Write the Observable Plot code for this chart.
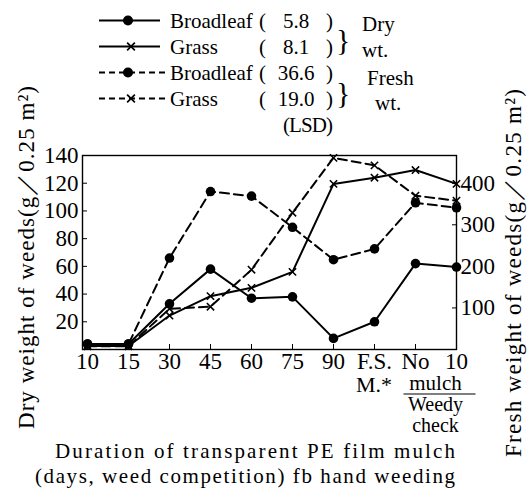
<!DOCTYPE html>
<html><head><meta charset="utf-8">
<script src="https://cdn.jsdelivr.net/npm/d3@7"></script>
<script src="https://cdn.jsdelivr.net/npm/@observablehq/plot@0.6"></script>
<style>
html,body{margin:0;padding:0;background:#fff;}
#wrap{position:relative;width:529px;height:491px;overflow:hidden;background:#fff;}
#wrap svg{position:absolute;left:0;top:0;}
</style></head><body><div id="wrap"></div>
<script>
// ---- data ----
const categories = ["10","15","30","45","60","75","90","FSM","NoMulch","WeedyCheck"];
const tickLabels = ["10","15","30","45","60","75","90","F.S.","No","10"];
const dryBroadleaf   = [4, 4, 33, 58, 37, 38, 8, 20, 62, 59.5];
const dryGrass       = [2.5, 2.5, 24.5, 38.5, 44.5, 56, 119.5, 124, 129.5, 119.5];
const freshBroadleaf = [13, 13, 220, 380, 369, 294, 216, 242, 353, 341];
const freshGrass     = [8, 8, 98, 103, 192, 329, 461, 443, 370, 358];
const dryTicks   = [20, 40, 60, 80, 100, 120, 140];
const freshTicks = [100, 200, 300, 400];
const lsd = ["5.8", "8.1", "36.6", "19.0"];
const FACTOR = 10 / 3; // fresh-weight units per dry-weight unit (right vs left axis)

const table = [];
categories.forEach((c, i) => {
  table.push({cat: c, v: dryBroadleaf[i], s: "dryB"});
  table.push({cat: c, v: dryGrass[i], s: "dryG"});
  table.push({cat: c, v: freshBroadleaf[i] / FACTOR, s: "freshB"});
  table.push({cat: c, v: freshGrass[i] / FACTOR, s: "freshG"});
});
const ser = s => table.filter(d => d.s === s);

const serif = "'Liberation Serif', 'Times New Roman', serif";
const ink = "#000";
const dash = "9,5";

const chart = Plot.plot({
  width: 529, height: 491,
  marginTop: 155, marginBottom: 142, marginLeft: 82, marginRight: 73,
  style: {fontFamily: serif, fontSize: "23px", background: "transparent", color: ink},
  x: {type: "point", domain: categories, padding: 0, insetLeft: 4},
  y: {domain: [0, 140]},
  marks: [
    Plot.frame({stroke: ink, strokeWidth: 1.4}),
    Plot.axisY({anchor: "left", ticks: dryTicks, tickSize: -5, tickPadding: 9, label: null}),
    Plot.axisY({anchor: "right", ticks: freshTicks.map(t => t / FACTOR), tickSize: -5, tickPadding: 9,
      tickFormat: d => String(Math.round(d * FACTOR)), label: null}),
    Plot.axisX({anchor: "bottom", ticks: categories, tickSize: -5, tickPadding: 8,
      tickFormat: d => tickLabels[categories.indexOf(d)], label: null}),
    Plot.line(ser("freshB"), {x: "cat", y: "v", stroke: ink, strokeWidth: 2, strokeDasharray: dash}),
    Plot.line(ser("freshG"), {x: "cat", y: "v", stroke: ink, strokeWidth: 2, strokeDasharray: dash}),
    Plot.line(ser("dryB"), {x: "cat", y: "v", stroke: ink, strokeWidth: 2}),
    Plot.line(ser("dryG"), {x: "cat", y: "v", stroke: ink, strokeWidth: 2}),
    Plot.dot(ser("dryB").concat(ser("freshB")), {x: "cat", y: "v", symbol: "circle", r: 4.8, fill: ink}),
    Plot.dot(ser("dryG").concat(ser("freshG")), {x: "cat", y: "v", symbol: "times", r: 3.4, stroke: ink, strokeWidth: 1.6})
  ]
});
document.getElementById("wrap").appendChild(chart);

// ---- overlay: legend, axis titles, extra category labels ----
const xs = chart.scale("x");
const ov = d3.create("svg").attr("width", 529).attr("height", 491)
  .style("font-family", serif).style("font-size", "21px").attr("fill", ink);

const legendRows = [
  {label: "Broadleaf", dashed: false, sym: "circle"},
  {label: "Grass", dashed: false, sym: "times"},
  {label: "Broadleaf", dashed: true, sym: "circle"},
  {label: "Grass", dashed: true, sym: "times"}
];
const rowY = [20.5, 46.5, 72.5, 98.5];
legendRows.forEach((r, i) => {
  const y = rowY[i];
  ov.append("line").attr("x1", 99).attr("x2", r.dashed ? 167 : 160).attr("y1", y).attr("y2", y)
    .attr("stroke", ink).attr("stroke-width", 2).attr("stroke-dasharray", r.dashed ? "6,4" : null);
  if (r.sym === "circle") {
    ov.append("circle").attr("cx", 128).attr("cy", y).attr("r", 5).attr("fill", ink);
  } else {
    ov.append("path").attr("d", d3.symbol(d3.symbolTimes, Math.PI * 3.6 * 3.6)())
      .attr("transform", `translate(131,${y})`).attr("fill", "none").attr("stroke", ink).attr("stroke-width", 1.7);
  }
  ov.append("text").attr("x", 170).attr("y", y + 7).text(r.label);
  ov.append("text").attr("x", 259).attr("y", y + 7).text("(");
  ov.append("text").attr("x", 296).attr("y", y + 7).attr("text-anchor", "middle").text(lsd[i]);
  ov.append("text").attr("x", 333).attr("y", y + 7).attr("text-anchor", "end").text(")");
});
ov.append("text").attr("x", 333).attr("y", 132).attr("text-anchor", "end")
  .attr("textLength", 50).attr("lengthAdjust", "spacing").text("(LSD)");
// braces
ov.append("text").attr("x", 336).attr("y", 50).style("font-size", "30px").text("}");
ov.append("text").attr("x", 336).attr("y", 103).style("font-size", "30px").text("}");
ov.append("text").attr("x", 362).attr("y", 31).text("Dry");
ov.append("text").attr("x", 362).attr("y", 57).text("wt.");
ov.append("text").attr("x", 367).attr("y", 85).text("Fresh");
ov.append("text").attr("x", 375).attr("y", 110).text("wt.");

// axis titles
ov.append("text").attr("transform", "translate(34,86) rotate(-90)").attr("text-anchor", "end")
  .style("font-size", "23px").attr("textLength", 343).attr("lengthAdjust", "spacing")
  .text("Dry weight of weeds(g／0.25 m²)");
ov.append("text").attr("transform", "translate(521,89) rotate(-90)").attr("text-anchor", "end")
  .style("font-size", "23px").attr("textLength", 368).attr("lengthAdjust", "spacing")
  .text("Fresh weight of weeds(g／0.25 m²)");

// second-line category labels
const sub = ov.append("g").attr("text-anchor", "middle");
const xFS = xs.apply("FSM");
const xMid = (xs.apply("NoMulch") + xs.apply("WeedyCheck")) / 2;
sub.append("text").attr("x", xFS).attr("y", 392).style("font-size", "22px").text("M.*");
sub.append("text").attr("x", xMid).attr("y", 390).style("font-size", "21px").text("mulch");
ov.append("line").attr("x1", xMid - 32).attr("x2", xMid + 40).attr("y1", 394).attr("y2", 394)
  .attr("stroke", ink).attr("stroke-width", 1.2);
sub.append("text").attr("x", xMid).attr("y", 411).style("font-size", "20px").text("Weedy");
sub.append("text").attr("x", xMid).attr("y", 432).style("font-size", "20px").text("check");

// x title
ov.append("text").attr("x", 55).attr("y", 458).style("font-size", "21px")
  .attr("textLength", 400).attr("lengthAdjust", "spacing")
  .text("Duration of transparent PE film mulch");
ov.append("text").attr("x", 35).attr("y", 483).style("font-size", "21px")
  .attr("textLength", 420).attr("lengthAdjust", "spacing")
  .text("(days, weed competition) fb hand weeding");

document.getElementById("wrap").appendChild(ov.node());
</script>
</body></html>
